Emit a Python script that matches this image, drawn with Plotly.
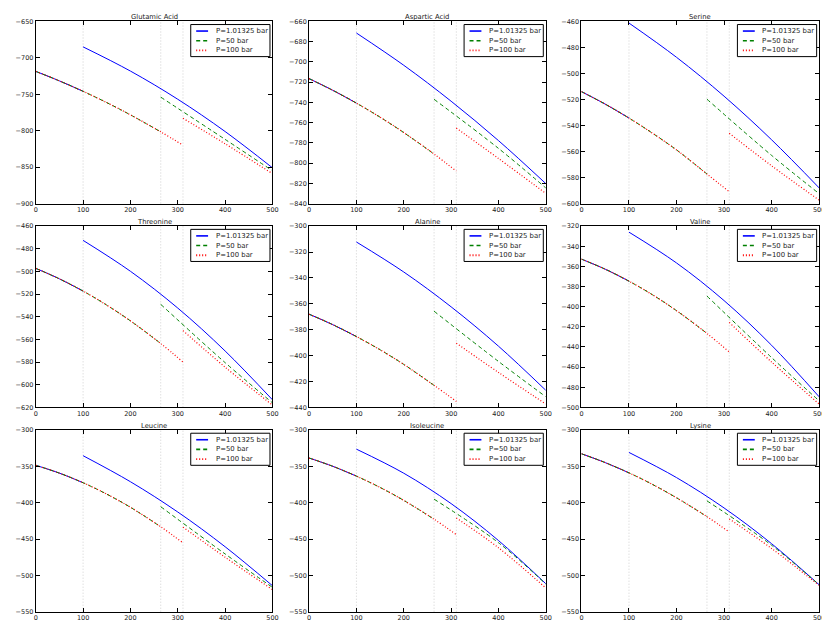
import plotly.graph_objects as go

# ---------------- data ----------------
names = ["Glutamic Acid", "Aspartic Acid", "Serine",
         "Threonine", "Alanine", "Valine",
         "Leucine", "Isoleucine", "Lysine"]

T_LIQ = [0, 50, 100, 150, 200, 264, 311]
T_GAS_1 = [100, 200, 300, 400, 500]
T_GAS_50 = [264, 400, 500]
T_GAS_100 = [311, 400, 500]
T_SAT = [100, 264, 311]

glutamic_liq = [-718.6, -731.7, -746, -761.5, -778.3, -801.6, -820]
glutamic_g1 = [-685, -718.2, -756.9, -801.2, -851]
glutamic_g50 = [-754, -812, -855]
glutamic_g100 = [-783, -818, -859]

aspartic_liq = [-716.6, -728.1, -740.8, -754.7, -769.9, -791.1, -808]
aspartic_g1 = [-671.5, -703.4, -738.9, -777.8, -820.3]
aspartic_g50 = [-737, -785.5, -824.6]
aspartic_g100 = [-765.4, -795.5, -830]

serine_liq = [-514, -523.6, -534.3, -546.1, -558.8, -577.3, -591]
serine_g1 = [-461.3, -487.6, -517.5, -551.0, -588]
serine_g50 = [-519.8, -563, -592.4]
serine_g100 = [-546, -571, -597.4]

threonine_liq = [-497.2, -506.5, -517.3, -529.7, -543.6, -563.6, -580]
threonine_g1 = [-472.5, -499.8, -532.3, -570.2, -613.3]
threonine_g50 = [-529, -580.5, -616]
threonine_g100 = [-552.2, -584.5, -618]

alanine_liq = [-368, -376.1, -385.3, -395.5, -406.8, -423, -435.4]
alanine_g1 = [-312.2, -335.4, -362.3, -392.7, -426.8]
alanine_g50 = [-365.7, -404.5, -431.8]
alanine_g100 = [-390.4, -413, -437.4]

valine_liq = [-352.7, -362.7, -374.6, -388.3, -403.9, -426.5, -445]
valine_g1 = [-325.9, -356.5, -393.9, -438.3, -489.5]
valine_g50 = [-389.4, -450.5, -493.5]
valine_g100 = [-415.6, -455, -496.7]

leucine_liq = [-348.5, -359.3, -372.5, -388.2, -406.3, -433.1, -455.3]
leucine_g1 = [-335.3, -371.1, -412.8, -460.6, -514.2]
leucine_g50 = [-405.5, -470.5, -516.5]
leucine_g100 = [-433.6, -475, -519.6]

isoleucine_liq = [-338.5, -349.9, -363.4, -379, -396.8, -422.7, -444]
isoleucine_g1 = [-326.3, -359.4, -401.2, -452, -511.5]
isoleucine_g50 = [-395.1, -455, -512]
isoleucine_g100 = [-421, -462, -517.4]

lysine_liq = [-332.6, -344.8, -358.9, -375, -393.2, -419.1, -440.4]
lysine_g1 = [-330.8, -365.4, -407.2, -456.4, -512.9]
lysine_g50 = [-397.4, -458.5, -513]
lysine_g100 = [-422.3, -463, -513.8]

y_ranges = [[-900, -650], [-840, -660], [-600, -460],
            [-620, -460], [-440, -300], [-500, -320],
            [-550, -300], [-550, -300], [-550, -300]]
y_dticks = [50, 20, 20, 20, 20, 20, 50, 50, 50]

labels = ["P=1.01325 bar", "P=50 bar", "P=100 bar"]

panels = [
    (glutamic_liq, glutamic_g1, glutamic_g50, glutamic_g100),
    (aspartic_liq, aspartic_g1, aspartic_g50, aspartic_g100),
    (serine_liq, serine_g1, serine_g50, serine_g100),
    (threonine_liq, threonine_g1, threonine_g50, threonine_g100),
    (alanine_liq, alanine_g1, alanine_g50, alanine_g100),
    (valine_liq, valine_g1, valine_g50, valine_g100),
    (leucine_liq, leucine_g1, leucine_g50, leucine_g100),
    (isoleucine_liq, isoleucine_g1, isoleucine_g50, isoleucine_g100),
    (lysine_liq, lysine_g1, lysine_g50, lysine_g100),
]

# ---------------- layout geometry ----------------
W, H = 830, 623
col_px = [(26, 265), (302, 541), (577, 817)]
row_px = [(9.5, 194), (217, 400.5), (423.5, 607.5)]


def px(x):
    return x / W


def py(y):
    return 1 - y / H


FONT = "DejaVu Sans"
TXT = "#222222"
fig = go.Figure()
layout = dict(
    width=W, height=H, margin=dict(l=0, r=0, t=0, b=0),
    paper_bgcolor="white", plot_bgcolor="white",
    font=dict(family=FONT, size=6.5, color=TXT),
    showlegend=False,
)
shapes = []
annotations = []

styles = [
    dict(color="#0000ff", width=1, dash="solid"),
    dict(color="#008000", width=1, dash="4px,3px"),
    dict(color="#ff0000", width=1.2, dash="1px,2px"),
]

for i, (name, (liq, g1, g50, g100)) in enumerate(zip(names, panels)):
    r, c = divmod(i, 3)
    ax = "" if i == 0 else str(i + 1)
    xa, ya = "x" + ax, "y" + ax

    cut = [100, 264, 311]
    gas_sets = [(T_GAS_1, g1), (T_GAS_50, g50), (T_GAS_100, g100)]
    for k in range(3):
        xs = [t for t in T_LIQ if t <= cut[k]]
        ys = [v for t, v in zip(T_LIQ, liq) if t <= cut[k]]
        gx, gy = gas_sets[k]
        fig.add_trace(go.Scatter(
            x=xs + [None] + list(gx), y=ys + [None] + list(gy),
            mode="lines", line=dict(shape="spline", smoothing=1.0, **styles[k]),
            name=labels[k], xaxis=xa, yaxis=ya, connectgaps=False,
        ))

    L, R = col_px[c]
    T, B = row_px[r]
    x0, x1 = px(L), px(R)
    y0, y1 = py(B), py(T)
    axis_common = dict(
        showline=True, linecolor="black", linewidth=1, mirror="ticks",
        ticks="inside", ticklen=4, tickcolor="black", showgrid=False,
        zeroline=False, tickfont=dict(family=FONT, size=6.5, color=TXT),
    )
    layout["xaxis" + ax] = dict(domain=[x0, x1], range=[0, 500], dtick=100,
                                 tick0=0, anchor=ya, **axis_common)
    layout["yaxis" + ax] = dict(domain=[y0, y1], range=y_ranges[i],
                                 dtick=y_dticks[i], tick0=0, anchor=xa,
                                 **axis_common)
    # saturation-temperature guide lines
    for t in T_SAT:
        shapes.append(dict(type="line", xref=xa, yref=ya + " domain",
                           x0=t, x1=t, y0=0, y1=1,
                           line=dict(color="#bdbdbd", width=0.7, dash="1px,2px"),
                           layer="below"))
    # title
    annotations.append(dict(text=name, x=(x0 + x1) / 2, y=y1, xref="paper",
                            yref="paper", xanchor="center", yanchor="bottom",
                            showarrow=False, yshift=-1.5,
                            font=dict(family=FONT, size=6.8, color=TXT)))
    # legend (drawn as box + samples + text)
    bR = R - 2.5
    bL = bR - 80
    bT = T + 3.2
    bB = bT + 32.5
    shapes.append(dict(type="rect", xref="paper", yref="paper",
                       x0=px(bL), x1=px(bR), y0=py(bB), y1=py(bT),
                       line=dict(color="black", width=1), fillcolor="white",
                       layer="above"))
    for k in range(3):
        yy = bT + 6.6 + 9.8 * k
        st = dict(styles[k])
        st["width"] = st["width"] + 0.6
        shapes.append(dict(type="line", xref="paper", yref="paper",
                           x0=px(bL + 5.5), x1=px(bL + 17.5), y0=py(yy), y1=py(yy),
                           line=st, layer="above"))
        annotations.append(dict(text=labels[k], x=px(bL + 23), y=py(yy),
                                xref="paper", yref="paper", xanchor="left",
                                yanchor="middle", showarrow=False,
                                font=dict(family=FONT, size=6.9, color=TXT)))

layout["shapes"] = shapes
layout["annotations"] = annotations
fig.update_layout(**layout)
fig.write_html("out.html")
